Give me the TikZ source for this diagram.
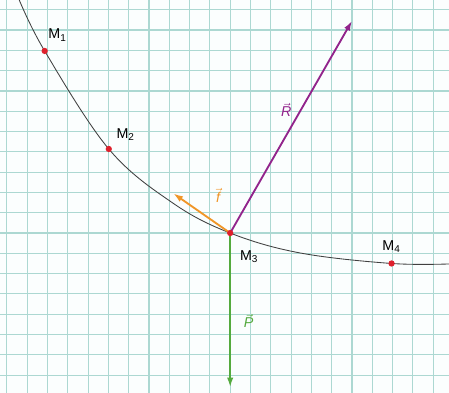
\documentclass[tikz,border=0pt]{standalone}
\usepackage{fontspec}
\setmainfont{Liberation Sans}
\usepackage{tikz}
\usetikzlibrary{
    arrows.meta,
    positioning
}
\tikzset{
  gridline/.style = {draw=GridTeal, line width=0.8pt},
  trajline/.style = {draw=black!75, line width=0.6pt},
  vec/.style      = {-{Latex[length=2.4mm,width=1.6mm]}, line width=1.3pt},
  pdot/.style     = {circle, fill=DotRed, inner sep=0pt, minimum size=4.4pt},
  lbl/.style      = {font=\normalsize, inner sep=1pt}
}
\definecolor{GridTeal}{RGB}{172,216,210}
\definecolor{PaperTint}{RGB}{251,254,254}
\definecolor{DotRed}{RGB}{222,32,44}
\definecolor{VecPurple}{RGB}{146,36,140}
\definecolor{VecGreen}{RGB}{84,170,62}
\definecolor{VecOrange}{RGB}{240,150,40}

\begin{document}
\begin{tikzpicture}[x=0.5cm, y=0.5cm]
\useasboundingbox (-11.34,-7.88) rectangle (10.78,11.48);
\fill[PaperTint] (-11.34,-7.88) rectangle (10.78,11.48);
\draw[gridline, step=0.5cm] (-11.34,-7.88) grid (10.78,11.48);

\coordinate (m1) at (-9.14,8.97);
\coordinate (m2) at (-5.98,4.14);
\coordinate (m3) at (0,0);
\coordinate (m4) at (7.95,-1.5);
\coordinate (rtip) at (6.0,10.45);
\coordinate (ptip) at (0,-7.6);
\coordinate (ftip) at (-2.8,1.95);

% trajectory
\draw[trajline] plot[smooth, tension=0.6] coordinates {
  (-10.42,11.55) (m1) (m2) (-2.83,1.48) (m3) (3.43,-0.98) (m4) (10.9,-1.52)};

\draw[vec, VecPurple] (m3) -- (rtip) node[lbl, pos=0.58, left=5pt] (lr) {$\vec{\textit{R}}$};
\draw[vec, VecGreen] (m3) -- (ptip) node[lbl, pos=0.57, right=8pt] (lp) {$\vec{\textit{P}}$};
\draw[vec, VecOrange] (m3) -- (ftip);
\node[lbl, text=VecOrange] (lf) at (-0.6,1.87) {$\vec{\textit{f}}$};

\node[pdot] (d1) at (m1) {};
\node[pdot] (d2) at (m2) {};
\node[pdot] (d3) at (m3) {};
\node[pdot] (d4) at (m4) {};

\node[lbl, above right=0.2cm and 0.05cm of m1] (lm1) {M\textsubscript{1}};
\node[lbl, above right=0.17cm and 0.15cm of m2] (lm2) {M\textsubscript{2}};
\node[lbl, below right=0.4cm and 0.2cm of m3] (lm3) {M\textsubscript{3}};
\node[lbl, above=0.22cm of m4] (lm4) {M\textsubscript{4}};
\end{tikzpicture}
\end{document}
